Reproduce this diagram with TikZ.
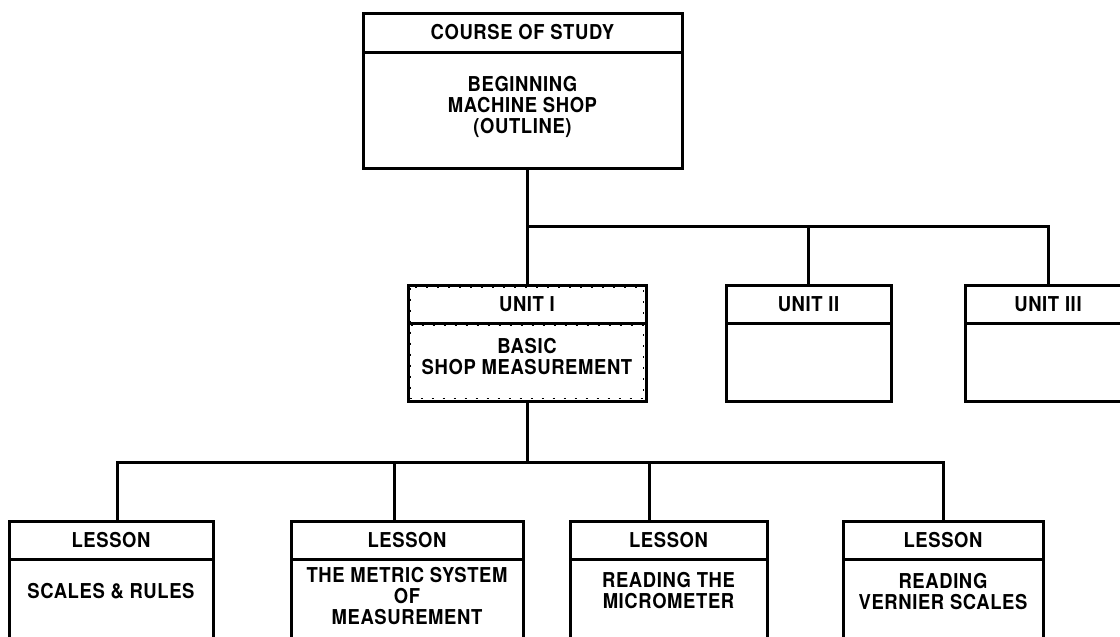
\documentclass[tikz,border=0pt]{standalone}
\usepackage{fontspec}
\setmainfont{TeX Gyre Heros}[LetterSpace=3,FakeStretch=0.9]
\usetikzlibrary{positioning}

\begin{document}
\begin{tikzpicture}[x=1pt,y=-1pt,line width=3pt,
        head node/.style={rectangle,draw,outer sep=0pt,inner sep=0pt,minimum height=38,
                          font=\fontsize{20.5}{21}\selectfont\bfseries},
        body node/.style={rectangle,draw,outer sep=0pt,inner sep=0pt},
        body text/.style={align=center,inner sep=0pt,
                          font=\fontsize{20.5}{21}\selectfont\bfseries},
        this unit/.style={draw,line width=1.6pt,dash pattern=on 2pt off 9pt}]

\useasboundingbox (0,0) rectangle (1120,637);
\fill[white] (0,0) rectangle (1120,637);
\clip (0,0) rectangle (1120,637);

% course of study
\node (Root) [head node,minimum width=319,minimum height=39] at (522.5,32.5) {COURSE OF STUDY};
\node (Root-body) [body node,minimum width=319,minimum height=116,below=0pt of Root] {};
\node (Root-text) [body text] at ([yshift=-55pt]Root-body.north) {BEGINNING\\MACHINE SHOP\\(OUTLINE)};

% units
\node (Root-1) [head node,minimum width=238] at (527,304) {UNIT I};
\node (Root-1-body) [body node,minimum width=238,minimum height=78,below=0pt of Root-1] {};
\node (Root-1-text) [body text] at ([yshift=-34pt]Root-1-body.north) {BASIC\\SHOP MEASUREMENT};
\draw[this unit] ([shift={(2.5pt,-2.5pt)}]Root-1.north west) rectangle ([shift={(-2.5pt,2.5pt)}]Root-1-body.south east);
\draw[this unit] ([shift={(2.5pt,-2.5pt)}]Root-1.south west) -- ([shift={(-2.5pt,-2.5pt)}]Root-1.south east);

\node (Root-2) [head node,minimum width=165] at (808.5,304) {UNIT II};
\node (Root-2-body) [body node,minimum width=165,minimum height=78,below=0pt of Root-2] {};

\node (Root-3) [head node,minimum width=165] at (1048,304) {UNIT III};
\node (Root-3-body) [body node,minimum width=165,minimum height=78,below=0pt of Root-3] {};

% lessons of unit I
\node (Root-1-1) [head node,minimum width=204] at (111,540) {LESSON};
\node (Root-1-1-body) [body node,minimum width=204,minimum height=120,below=0pt of Root-1-1] {};
\node (Root-1-1-text) [body text] at ([yshift=-32pt]Root-1-1-body.north) {SCALES \& RULES};

\node (Root-1-2) [head node,minimum width=232] at (407,540) {LESSON};
\node (Root-1-2-body) [body node,minimum width=232,minimum height=120,below=0pt of Root-1-2] {};
\node (Root-1-2-text) [body text] at ([yshift=-37pt]Root-1-2-body.north) {THE METRIC SYSTEM\\OF\\MEASUREMENT};

\node (Root-1-3) [head node,minimum width=197] at (668.5,540) {LESSON};
\node (Root-1-3-body) [body node,minimum width=197,minimum height=120,below=0pt of Root-1-3] {};
\node (Root-1-3-text) [body text] at ([yshift=-32pt]Root-1-3-body.north) {READING THE\\MICROMETER};

\node (Root-1-4) [head node,minimum width=200] at (943,540) {LESSON};
\node (Root-1-4-body) [body node,minimum width=200,minimum height=120,below=0pt of Root-1-4] {};
\node (Root-1-4-text) [body text] at ([yshift=-33pt]Root-1-4-body.north) {READING\\VERNIER SCALES};

% connectors
\coordinate (Fork) at (527,226);
\coordinate (Fork-1) at (527,462);
\draw (Root-body.south -| Fork) -- (Root-1.north);
\draw (Fork) -| (Root-3.north);
\draw (Fork -| Root-2.north) -- (Root-2.north);
\draw (Root-1-body.south) -- (Fork-1);
\draw ([xshift=6pt]Root-1-1.north) |- (Fork-1 -| Root-1-4.north) -- (Root-1-4.north);
\draw ([xshift=-13pt]Root-1-2.north) -- ([xshift=-13pt]Root-1-2.north |- Fork-1);
\draw ([xshift=-19.5pt]Root-1-3.north) -- ([xshift=-19.5pt]Root-1-3.north |- Fork-1);

\end{tikzpicture}
\end{document}
